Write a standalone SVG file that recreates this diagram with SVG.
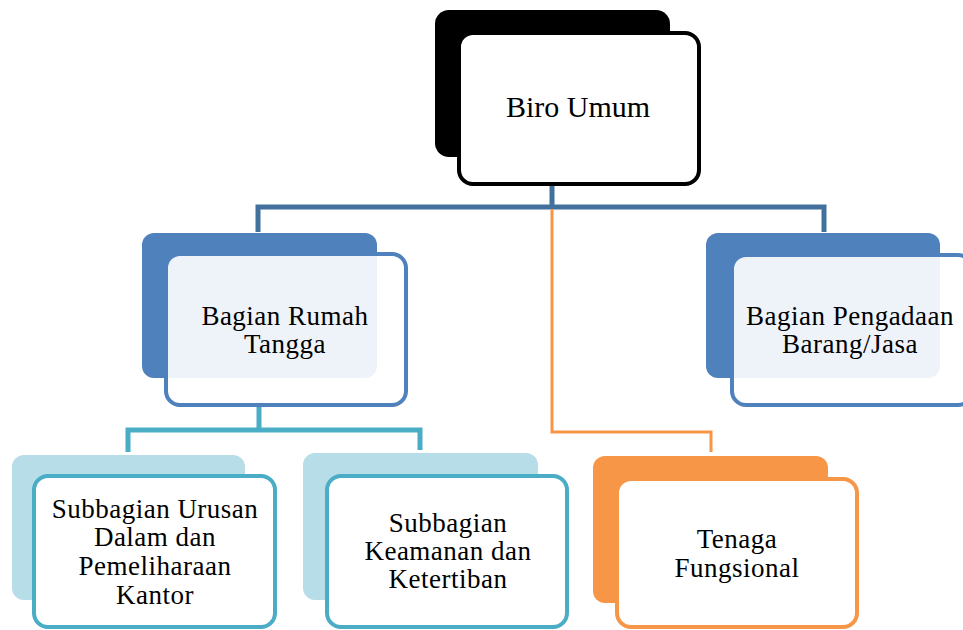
<svg xmlns="http://www.w3.org/2000/svg" width="963" height="630" viewBox="0 0 963 630">
<style>
text{font-family:"Liberation Serif","Times New Roman",serif;fill:#000;text-anchor:middle}
.t{font-size:27px;letter-spacing:0.5px}
.c{fill:none;stroke-linejoin:miter}
.front{stroke-width:4}
</style>
<rect width="963" height="630" fill="#fff"/>
<g id="connectors">
<path class="c" d="M552 185V207M258 232V207H824V232" stroke="#41719C" stroke-width="5"/>
<path class="c" d="M552 209V432H711V452" stroke="#F79646" stroke-width="3"/>
<path class="c" d="M259 405V430M128 452V430H420V450" stroke="#4BACC6" stroke-width="5"/>
</g>
<g id="biro-umum">
<rect x="435" y="10" width="235" height="147" rx="14" fill="#000"/>
<rect class="front" x="459" y="33" width="240" height="151" rx="14" fill="#fff" stroke="#000"/>
<text x="578" y="117" font-size="30">Biro Umum</text>
</g>
<g id="bagian-rumah-tangga">
<rect x="142" y="233" width="235" height="145" rx="12" fill="#4F81BD"/>
<rect class="front" x="166" y="254" width="240" height="151" rx="14" fill="#fff" fill-opacity="0.9" stroke="#4F81BD"/>
<text class="t" x="285" y="325">Bagian Rumah</text>
<text class="t" x="285" y="353">Tangga</text>
</g>
<g id="bagian-pengadaan">
<rect x="706" y="233" width="234" height="145" rx="12" fill="#4F81BD"/>
<rect class="front" x="732" y="255" width="240" height="150" rx="14" fill="#fff" fill-opacity="0.9" stroke="#4F81BD"/>
<text class="t" x="850" y="325">Bagian Pengadaan</text>
<text class="t" x="850" y="353">Barang/Jasa</text>
</g>
<g id="subbagian-urusan">
<rect x="12" y="455" width="233" height="145" rx="12" fill="#B7DDE8"/>
<rect class="front" x="34" y="476" width="241" height="151" rx="14" fill="#fff" stroke="#4BACC6"/>
<text class="t" x="155" y="518">Subbagian Urusan</text>
<text class="t" x="155" y="546">Dalam dan</text>
<text class="t" x="155" y="575">Pemeliharaan</text>
<text class="t" x="155" y="604">Kantor</text>
</g>
<g id="subbagian-keamanan">
<rect x="303" y="453" width="235" height="147" rx="12" fill="#B7DDE8"/>
<rect class="front" x="327" y="476" width="240" height="151" rx="14" fill="#fff" stroke="#4BACC6"/>
<text class="t" x="448" y="532">Subbagian</text>
<text class="t" x="448" y="560">Keamanan dan</text>
<text class="t" x="448" y="588">Ketertiban</text>
</g>
<g id="tenaga-fungsional">
<rect x="593" y="456" width="235" height="147" rx="12" fill="#F79646"/>
<rect class="front" x="617" y="479" width="240" height="148" rx="14" fill="#fff" stroke="#F79646"/>
<text class="t" x="737" y="548">Tenaga</text>
<text class="t" x="737" y="577">Fungsional</text>
</g>
</svg>
